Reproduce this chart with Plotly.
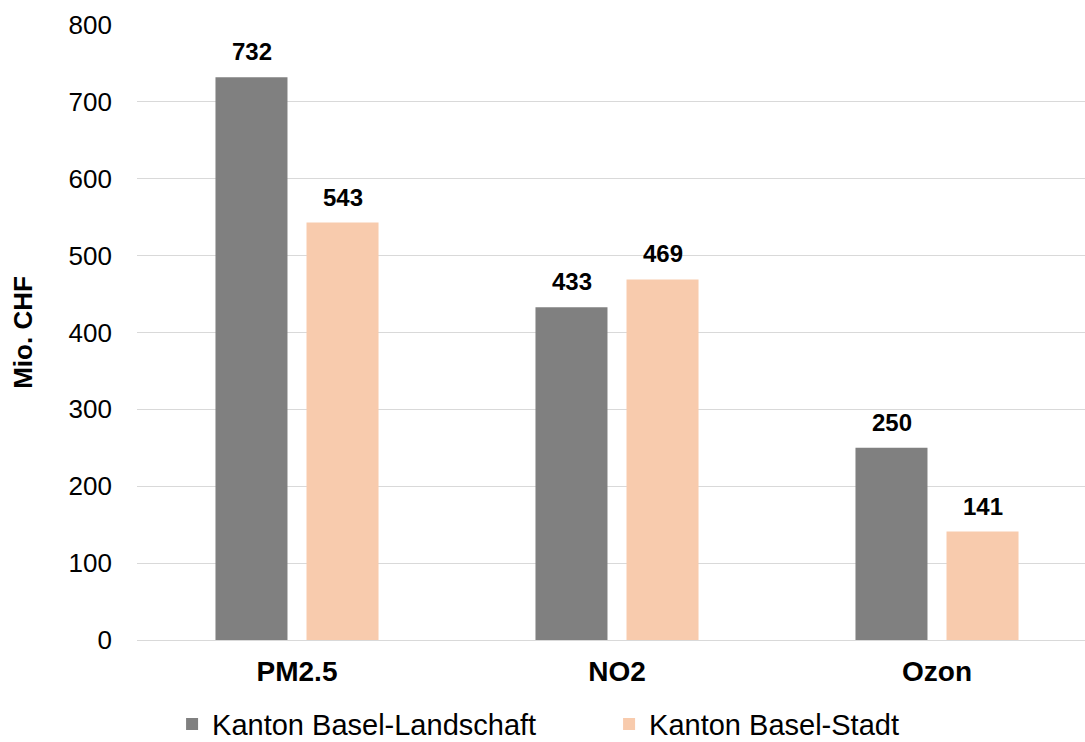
import plotly.graph_objects as go

categories = ["PM2.5", "NO2", "Ozon"]
series_names = ["Kanton Basel-Landschaft", "Kanton Basel-Stadt"]
bl_values = [732, 433, 250]
bs_values = [543, 469, 141]
y_ticks = [0, 100, 200, 300, 400, 500, 600, 700, 800]

colors = ["#808080", "#f8cbad"]
FONT = "Liberation Sans, Arial, sans-serif"

fig = go.Figure()
for name, vals, col in zip(series_names, [bl_values, bs_values], colors):
    fig.add_trace(go.Bar(x=categories, y=vals, name=name, marker=dict(color=col, line=dict(width=0)),
                         hoverinfo="skip"))

# data labels
for vals, shift in zip([bl_values, bs_values], [-45, 46]):
    for c, v in zip(categories, vals):
        fig.add_annotation(x=c, y=v, xref="x", yref="y", text=f"<b>{v}</b>", showarrow=False,
                           xshift=shift, yshift=10, yanchor="bottom",
                           font=dict(family=FONT, size=24, color="#000000"))

fig.update_layout(
    width=1085, height=742,
    margin=dict(l=137, r=0, t=25, b=102),
    paper_bgcolor="white", plot_bgcolor="white",
    barmode="group", bargap=0.431, bargroupgap=0.209,
    font=dict(family=FONT, color="#000000"),
    showlegend=True,
    legend=dict(orientation="h", x=0.037, xanchor="left", yref="container", y=0.024, yanchor="middle",
                font=dict(size=29, family=FONT), entrywidthmode="pixels", entrywidth=392,
                itemwidth=30, traceorder="normal"),
    xaxis=dict(range=[-0.5, 2.4625], tickfont=dict(size=28, family=FONT),
               tickvals=categories, ticktext=[f"<b>{c}</b>" for c in categories],
               showline=False, ticks="", ticklabelstandoff=12, fixedrange=True),
    yaxis=dict(range=[0, 800], tickvals=y_ticks, tickfont=dict(size=26, family=FONT),
               showgrid=True, gridcolor="#d9d9d9", gridwidth=1.3,
               zeroline=True, zerolinecolor="#d9d9d9", zerolinewidth=1.3,
               ticks="", ticklabelstandoff=24,
               title=dict(text="<b>Mio. CHF</b>", font=dict(size=26, family=FONT), standoff=28)),
)

fig.write_html("out.html")
